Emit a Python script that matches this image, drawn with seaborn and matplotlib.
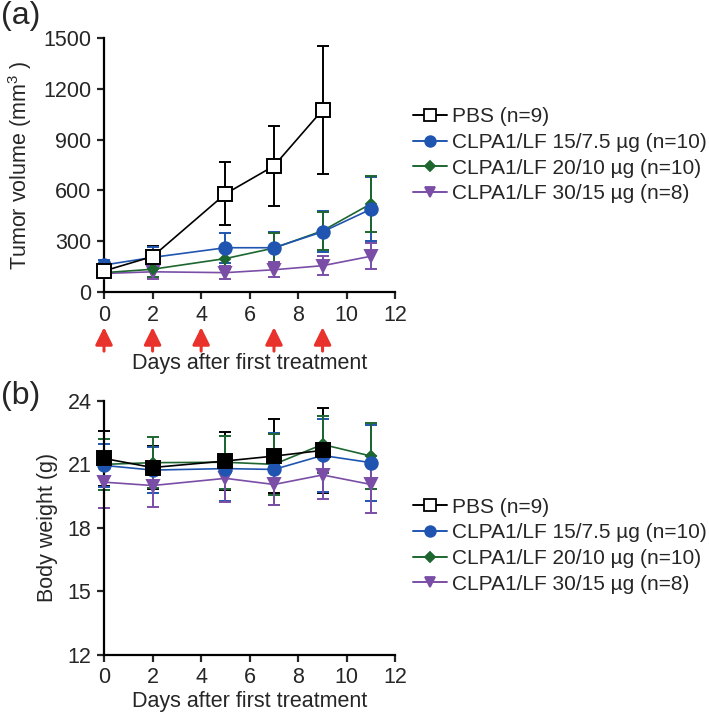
import numpy as np
import pandas as pd
import matplotlib
matplotlib.use("Agg")
import matplotlib.pyplot as plt
import seaborn as sns
from matplotlib.lines import Line2D

# Data (mean and error bar half-length)
groups = ["PBS (n=9)", "CLPA1/LF 15/7.5 µg (n=10)",
          "CLPA1/LF 20/10 µg (n=10)", "CLPA1/LF 30/15 µg (n=8)"]
days_pbs = [0, 2, 5, 7, 9]
days_trt = [0, 2, 5, 7, 9, 11]
treatment_days = [0, 2, 4, 7, 9]

vol_pbs = [125, 210, 580, 745, 1075]
vol_pbs_err = [40, 65, 185, 235, 380]
vol_15 = [160, 205, 262, 262, 356, 490]
vol_15_err = [30, 60, 88, 95, 122, 190]
vol_20 = [115, 135, 198, 260, 362, 522]
vol_20_err = [25, 45, 60, 88, 112, 165]
vol_30 = [110, 120, 115, 132, 156, 212]
vol_30_err = [25, 40, 40, 45, 55, 75]

bw_pbs = [21.28, 20.85, 21.16, 21.39, 21.66]
bw_pbs_err = [1.3, 1.0, 1.35, 1.75, 2.0]
bw_15 = [20.95, 20.73, 20.80, 20.76, 21.42, 21.08]
bw_15_err = [1.0, 1.1, 1.55, 1.7, 1.72, 1.8]
bw_20 = [21.00, 21.08, 21.10, 21.00, 21.94, 21.39]
bw_20_err = [1.2, 1.2, 1.25, 1.45, 1.35, 1.55]
bw_30 = [20.16, 20.00, 20.34, 20.05, 20.50, 20.05]
bw_30_err = [1.2, 1.0, 1.1, 0.95, 1.15, 1.35]

sns.set_style("ticks")
plt.rcParams['font.family'] = ['Liberation Sans', 'DejaVu Sans']
plt.rcParams['mathtext.fontset'] = 'custom'
plt.rcParams['mathtext.rm'] = 'Liberation Sans'
plt.rcParams['mathtext.it'] = 'Liberation Sans'

colors = ["black", "#1f55b0", "#1d6630", "#7a4ea6"]
markers = ["s", "o", "D", "v"]
msizes = [9.5, 9, 5.5, 8.5]

fig = plt.figure(figsize=(7.09, 7.16), dpi=100)
ax_a = fig.add_axes([0.1467, 0.592, 0.411, 0.355])
ax_b = fig.add_axes([0.1467, 0.0852, 0.411, 0.355])


def draw(ax, series, filled_pbs):
    # draw back to front: 30/15, 20/10, 15/7.5, PBS
    for i in [3, 2, 1, 0]:
        x, y, e = series[i]
        df = pd.DataFrame({"day": x, "val": y})
        ax.errorbar(x, y, yerr=e, fmt="none", ecolor=colors[i],
                    elinewidth=1.4, capsize=4, capthick=1.4, clip_on=False, zorder=2 + i * 0.1)
        face = colors[i]
        if i == 0 and not filled_pbs:
            face = "white"
        sns.lineplot(data=df, x="day", y="val", ax=ax, color=colors[i],
                     marker=markers[i], markersize=msizes[i], markerfacecolor=face,
                     markeredgecolor=colors[i], markeredgewidth=1.4, linewidth=1.2,
                     clip_on=False, zorder=3 + (3 - i))


series_a = [(days_pbs, vol_pbs, vol_pbs_err), (days_trt, vol_15, vol_15_err),
            (days_trt, vol_20, vol_20_err), (days_trt, vol_30, vol_30_err)]
series_b = [(days_pbs, bw_pbs, bw_pbs_err), (days_trt, bw_15, bw_15_err),
            (days_trt, bw_20, bw_20_err), (days_trt, bw_30, bw_30_err)]

draw(ax_a, series_a, filled_pbs=False)
draw(ax_b, series_b, filled_pbs=True)

for ax in (ax_a, ax_b):
    sns.despine(ax=ax)
    ax.set_xlim(0, 12)
    ax.set_xticks(range(0, 13, 2))
    ax.tick_params(labelsize=15.5, length=5, width=1.6, direction="out", pad=4)
    for s in ("left", "bottom"):
        ax.spines[s].set_linewidth(1.6)
        ax.spines[s].set_color("black")

ax_a.set_ylim(0, 1500)
ax_a.set_yticks(range(0, 1501, 300))
ax_a.set_ylabel("Tumor volume (mm$^{3}$ )", fontsize=15.5, labelpad=7)
ax_a.set_xlabel("Days after first treatment", fontsize=15.5)
ax_a.xaxis.set_label_coords(0.5, -0.238)

ax_b.set_ylim(12, 24)
ax_b.set_yticks(range(12, 25, 3))
ax_b.set_ylabel("Body weight (g)", fontsize=15.5, labelpad=7)
ax_b.set_xlabel("Days after first treatment", fontsize=15.5)
ax_b.xaxis.set_label_coords(0.5, -0.14)

# treatment arrows under panel (a)
for d in treatment_days:
    ax_a.annotate("", xy=(d, -0.138), xycoords=("data", "axes fraction"),
                  xytext=(d, -0.232), textcoords=("data", "axes fraction"),
                  arrowprops=dict(arrowstyle="-|>,head_length=1.05,head_width=0.52",
                                  color="#e8322b", lw=2.2, shrinkA=0, shrinkB=0))

fig.text(0.002, 0.998, "(a)", fontsize=23, va="top", ha="left")
fig.text(0.002, 0.468, "(b)", fontsize=23, va="top", ha="left")

handles = [Line2D([], [], color=colors[i], marker=markers[i], markersize=msizes[i] * 0.85,
                  markerfacecolor=("white" if i == 0 else colors[i]),
                  markeredgecolor=colors[i], markeredgewidth=1.3, linewidth=1.4)
           for i in range(4)]

for ax, y0 in ((ax_a, 0.850), (ax_b, 0.305)):
    fig.legend(handles, groups, loc="upper left", bbox_to_anchor=(0.582, y0),
               frameon=False, fontsize=15, handlelength=1.65, handletextpad=0.25,
               labelspacing=0.32, borderaxespad=0, borderpad=0)

fig.savefig("out.png", dpi=100)
